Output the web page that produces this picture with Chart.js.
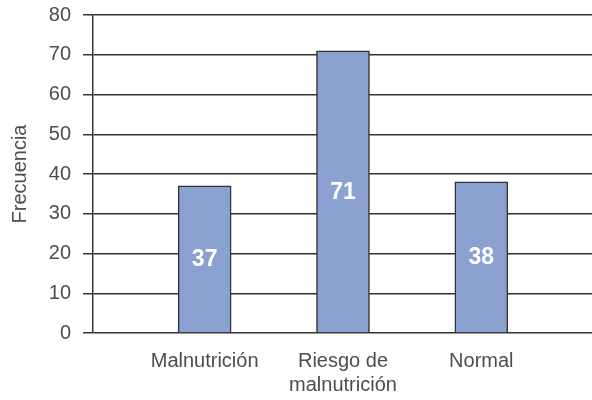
<!DOCTYPE html>
<html>
<head>
<meta charset="utf-8">
<script src="https://cdn.jsdelivr.net/npm/chart.js@4"></script>
<style>
  html, body { margin: 0; padding: 0; background: #fff; }
  #wrap { width: 592px; height: 400px; position: relative; }
</style>
</head>
<body>
<div id="wrap"><canvas id="chart"></canvas></div>
<script>
// --- Data ---
const categories = ['Malnutrición', ['Riesgo de', 'malnutrición'], 'Normal'];
const frequencies = [37, 71, 38];
const yTicks = [0, 10, 20, 30, 40, 50, 60, 70, 80];

const textColor = '#4d4d4d';
const lineColor = '#333333';
const fontFamily = '"Liberation Sans", Arial, sans-serif';

// value written in the middle of each bar
const barValueLabels = {
    id: 'barValueLabels',
    afterDatasetsDraw(chart) {
        const ctx = chart.ctx;
        const meta = chart.getDatasetMeta(0);
        ctx.save();
        ctx.fillStyle = '#ffffff';
        ctx.font = 'bold 23px "Liberation Sans Narrow", "Liberation Sans", Arial, sans-serif';
        ctx.textAlign = 'center';
        ctx.textBaseline = 'middle';
        meta.data.forEach((bar, i) => {
            const { x, y, base } = bar.getProps(['x', 'y', 'base'], true);
            ctx.fillText(String(frequencies[i]), x, (y + base) / 2 + 1);
        });
        ctx.restore();
    }
};

new Chart(document.getElementById('chart'), {
    type: 'bar',
    data: {
        datasets: [{
            data: frequencies.map((v, i) => ({ x: i, y: v })),
            backgroundColor: '#8aa1d1',
            borderColor: lineColor,
            borderWidth: 1.5,
            borderSkipped: 'bottom',
            barThickness: 53
        }]
    },
    options: {
        responsive: true,
        maintainAspectRatio: false,
        animation: false,
        layout: { padding: { top: 15, right: 0, bottom: 0, left: 0 } },
        plugins: { legend: { display: false }, tooltip: { enabled: false } },
        scales: {
            x: {
                type: 'linear',
                offset: false,
                min: -0.807,
                max: 2.8,
                afterBuildTicks: scale => { scale.ticks = categories.map((_, i) => ({ value: i })); },
                afterFit: scale => {
                    scale.height = 67;
                    scale.paddingLeft = 0;
                    scale.paddingRight = 0;
                },
                grid: { display: false },
                border: { display: false },
                ticks: {
                    autoSkip: false,
                    maxRotation: 0,
                    padding: 8,
                    color: textColor,
                    font: { family: fontFamily, size: 20, lineHeight: 1.2 },
                    callback: value => categories[value]
                }
            },
            y: {
                min: 0,
                max: 80,
                afterBuildTicks: scale => { scale.ticks = yTicks.map(v => ({ value: v })); },
                afterFit: scale => {
                    scale.width = 93;
                    scale.paddingTop = 0;
                    scale.paddingBottom = 0;
                },
                grid: { color: lineColor, lineWidth: 1.5, tickLength: 10 },
                border: { display: true, color: lineColor, width: 1.5 },
                ticks: {
                    padding: 12,
                    color: textColor,
                    font: { family: fontFamily, size: 20 }
                },
                title: {
                    display: true,
                    text: 'Frecuencia',
                    color: textColor,
                    padding: { top: 8, bottom: 0 },
                    font: { family: fontFamily, size: 20 }
                }
            }
        }
    },
    plugins: [barValueLabels]
});
</script>
</body>
</html>
